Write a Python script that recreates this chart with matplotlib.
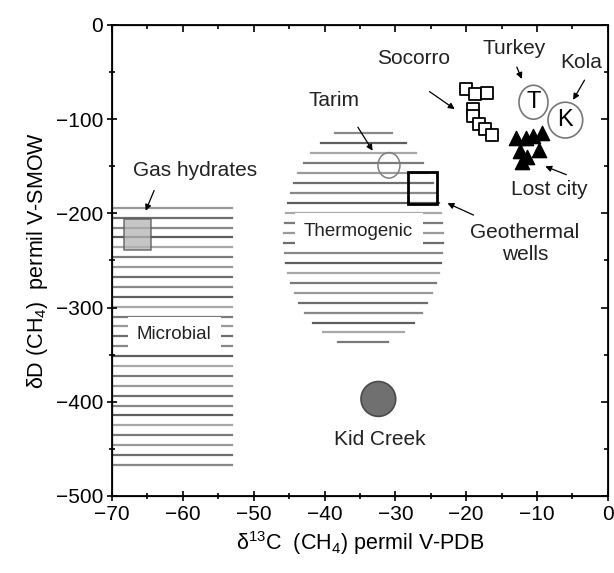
import numpy as np
import matplotlib
matplotlib.use('Agg')
import matplotlib.pyplot as plt
from matplotlib.patches import Ellipse, Rectangle

plt.rcParams['font.family'] = ['Liberation Sans', 'DejaVu Sans']
plt.rcParams['mathtext.fontset'] = 'custom'
plt.rcParams['mathtext.rm'] = 'Liberation Sans'
plt.rcParams['mathtext.default'] = 'regular'

# Socorro (open squares)
socorro_x = [-20.0, -18.7, -17.0, -19.0, -19.0, -18.2, -17.3, -16.3]
socorro_y = [-68, -73, -72, -89, -97, -105, -110, -117]

# Lost city (filled triangles)
lost_x = [-13.0, -11.6, -10.6, -9.3, -12.4, -9.7, -12.1, -11.4]
lost_y = [-120, -120, -118, -115, -134, -133, -145, -140]

# single sites: (x, y, width, height)
turkey = (-10.5, -82, 4.1, 36)
kola = (-6.0, -101, 4.9, 38)
tarim = (-30.9, -149, 3.1, 27)
kid_creek = (-32.4, -397, 4.9, 37)
gas_hydrates = (-68.3, -239, 3.8, 33)    # x0, y0, w, h
geothermal = (-28.2, -190, 4.1, 34)

# fields
microbial_x = (-70, -53.1)
microbial_y = (-194, -467)
n_microbial = 27
thermo_center = (-34.5, -225)
thermo_radius = (11.2, 118)
thermo_y = (-115, -337)
n_thermo = 22

grays = ['#9a9a9a', '#6e6e6e', '#888888', '#5e5e5e', '#a8a8a8', '#7a7a7a']

fig = plt.figure(figsize=(6.14, 5.73), dpi=100)
ax = fig.add_axes([0.1824, 0.1344, 0.8076, 0.822])

# microbial hatch
for i, y in enumerate(np.linspace(microbial_y[0], microbial_y[1], n_microbial)):
    ax.plot(microbial_x, [y, y], color=grays[i % len(grays)], lw=1.6, zorder=1)

# thermogenic hatch
cx, cy = thermo_center
a, b = thermo_radius
for i, y in enumerate(np.linspace(thermo_y[0], thermo_y[1], n_thermo)):
    hw = a * np.sqrt(max(0.0, 1 - ((y - cy) / b) ** 2))
    hw = max(hw, 2.0)
    ax.plot([cx - hw, cx + hw], [y, y], color=grays[(i + 2) % len(grays)], lw=1.6, zorder=1)

fs = 13.5
ax.text(-61.2, -329, 'Microbial', fontsize=fs, ha='center', va='center', color='#222222',
        bbox=dict(facecolor='white', edgecolor='none', boxstyle='square,pad=0.5'), zorder=2)
ax.text(-35.2, -219, 'Thermogenic', fontsize=fs, ha='center', va='center', color='#222222',
        bbox=dict(facecolor='white', edgecolor='none', boxstyle='square,pad=0.5'), zorder=2)

# gas hydrates box
ax.add_patch(Rectangle(gas_hydrates[:2], gas_hydrates[2], gas_hydrates[3],
                       facecolor='#b4b4b4', edgecolor='#555555', lw=1.2, alpha=0.75, zorder=3))
# geothermal wells box
ax.add_patch(Rectangle(geothermal[:2], geothermal[2], geothermal[3],
                       facecolor='none', edgecolor='black', lw=2.0, zorder=3))

# Tarim
ax.add_patch(Ellipse(tarim[:2], tarim[2], tarim[3], facecolor='none',
                     edgecolor='#808080', lw=1.1, zorder=3))
# Kid Creek
ax.add_patch(Ellipse(kid_creek[:2], kid_creek[2], kid_creek[3], facecolor='#707070',
                     edgecolor='#4a4a4a', lw=1.2, zorder=3))
# Turkey & Kola
for site, letter in [(turkey, 'T'), (kola, 'K')]:
    ax.add_patch(Ellipse(site[:2], site[2], site[3], facecolor='white',
                         edgecolor='#777777', lw=1.2, zorder=3))
    ax.text(site[0], site[1], letter, fontsize=17, ha='center', va='center', zorder=4)

ax.scatter(socorro_x, socorro_y, marker='s', s=85, facecolor='white',
           edgecolor='black', linewidths=1.3, zorder=4)
ax.scatter(lost_x, lost_y, marker='^', s=105, color='black', zorder=4)

fs2 = 15
arrow = dict(arrowstyle='-|>', color='black', lw=0.9, mutation_scale=9)
labels = [
    ('Gas hydrates', (-58.3, -154), (-63.9, -173), (-65.4, -200)),
    ('Tarim', (-38.6, -80), (-35.5, -106), (-33.0, -136)),
    ('Socorro', (-27.5, -36), (-25.5, -69), (-21.3, -91)),
    ('Turkey', (-13.2, -25), (-13.0, -42), (-12.0, -60)),
    ('Kola', (-3.8, -40), (-3.1, -56), (-5.1, -82)),
    ('Lost city', (-8.3, -175), (-5.5, -160), (-9.2, -149)),
    ('Geothermal\nwells', (-11.7, -232), (-18.6, -203), (-23.0, -188)),
]
for txt, pos, start, end in labels:
    ax.text(pos[0], pos[1], txt, fontsize=fs2, ha='center', va='center', color='#222222',
            linespacing=1.25, zorder=5)
    ax.annotate('', xy=end, xytext=start, arrowprops=arrow, zorder=5)

ax.text(kid_creek[0] + 0.2, -440, 'Kid Creek', fontsize=fs2, ha='center', va='center',
        color='#222222')

ax.set_xlim(-70, 0)
ax.set_ylim(-500, 0)
ax.set_xticks(np.arange(-70, 1, 10))
ax.set_yticks(np.arange(-500, 1, 100))
ax.set_xticks(np.arange(-65, 0, 10), minor=True)
ax.set_yticks(np.arange(-450, 0, 100), minor=True)
ax.tick_params(axis='both', which='major', labelsize=15, length=7, width=1.2,
               direction='inout', pad=3)
ax.tick_params(axis='both', which='minor', length=5, width=1.2, direction='inout')
for sp in ax.spines.values():
    sp.set_linewidth(1.3)

ax2 = ax.twinx()
ax2.set_ylim(-500, 0)
ax2.set_yticks(np.arange(-500, 1, 100))
ax2.set_yticks(np.arange(-450, 0, 100), minor=True)
ax2.tick_params(which='major', direction='in', length=5, width=1.2, labelright=False)
ax2.tick_params(which='minor', direction='in', length=3, width=1.2)
ax3 = ax.twiny()
ax3.set_xlim(-70, 0)
ax3.set_xticks(np.arange(-70, 1, 10))
ax3.set_xticks(np.arange(-65, 0, 10), minor=True)
ax3.tick_params(which='major', direction='in', length=5, width=1.2, labeltop=False)
ax3.tick_params(which='minor', direction='in', length=3, width=1.2)

ax.set_xlabel(r'δ$^{13}$C  (CH$_4$) permil V-PDB', fontsize=15.5, labelpad=4)
ax.set_ylabel(r'δD (CH$_4$)  permil V-SMOW', fontsize=15.5, labelpad=4)

fig.savefig('out.png', dpi=100)
